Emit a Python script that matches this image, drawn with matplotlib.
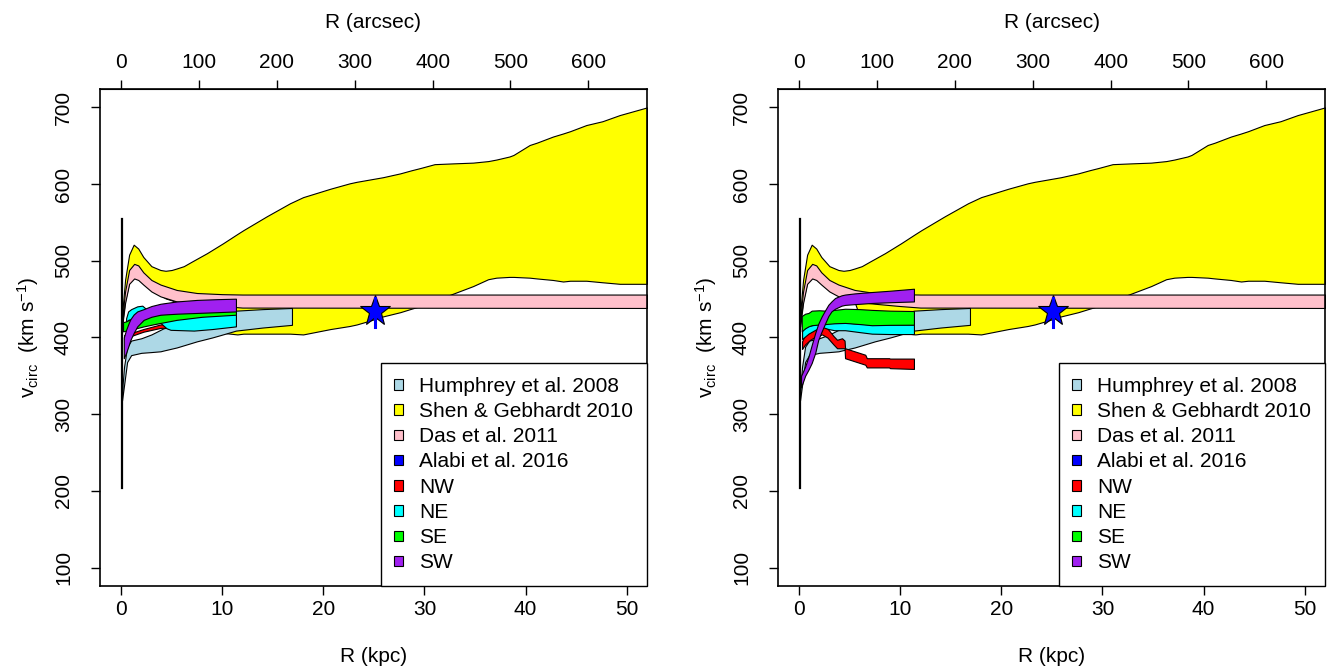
import numpy as np
import matplotlib
matplotlib.use("Agg")
import matplotlib.pyplot as plt
from matplotlib.patches import Patch

plt.rcParams['font.family'] = ['Liberation Sans', 'DejaVu Sans']
plt.rcParams['mathtext.fontset'] = 'custom'
plt.rcParams['mathtext.rm'] = 'Liberation Sans'
plt.rcParams['mathtext.it'] = 'Liberation Sans:italic'
plt.rcParams['font.size'] = 15

KPC_PER_ARCSEC = 0.077

# ── LITERATURE PROFILES (same in both panels) ─────────
# Shen & Gebhardt 2010
sg_x  = [0.1, 0.4, 0.8, 1.25, 1.7, 2.2, 3.0, 3.9, 4.4, 5.0, 5.5, 6.2, 7.0, 8.5, 10.1, 11.5,
         12.1, 14.4, 16.7, 18.0, 20.7, 22.6, 23.3, 24.6, 25.9, 27.6, 28.7, 29.6, 31.0, 32.8,
         34.8, 36.3, 37.1, 38.4, 38.8, 40.4, 41.1, 42.7, 43.7, 44.4, 46.0, 47.6, 49.3, 52.0]
sg_hi = [430, 475, 508, 521, 516, 505, 493, 488, 487, 488, 490, 493, 499, 510, 523, 535,
         540, 558, 575, 583, 594, 601, 603, 606, 609, 614, 618, 621, 626, 627,
         628, 630, 632, 636, 638, 651, 654, 662, 666, 669, 677, 682, 690, 700]
sg_lo = [418, 448, 472, 479, 477, 471, 462, 455, 451, 448.5, 446, 420, 410, 407, 406, 404,
         405, 405, 405, 404, 411, 415, 417, 422, 427.5, 433, 437.5, 441, 448, 457,
         467, 476, 478, 479, 479, 478, 477, 475, 473, 474, 474, 472, 470, 470]

# Das et al. 2011
das_x  = [0.1, 0.4, 0.8, 1.3, 1.7, 2.2, 3.0, 3.9, 5.5, 7.5, 10.0, 12.0, 52.0]
das_hi = [424, 460, 488, 496, 494, 485, 475, 469, 462, 458, 456.5, 456, 456]
das_lo = [414, 445, 470, 477, 475, 469, 460, 453.6, 447, 444, 441, 439, 438.5]

# Humphrey et al. 2008
hum_x  = [0.1, 0.3, 0.6, 1.0, 2.0, 3.0, 3.9, 4.2, 5.5, 7.0, 7.5, 9.0, 9.8, 11.36, 14.0, 16.9]
hum_hi = [330, 362, 388, 396, 399, 404, 410, 412, 416, 420, 422, 426, 429, 435, 437, 438.5]
hum_lo = [318, 338, 368, 377, 380, 381, 382, 383, 387, 393, 395, 400, 403, 409, 413, 416.5]

# Alabi et al. 2016
alabi_r, alabi_v, alabi_lo, alabi_hi = 25.1, 434, 414, 452

# inner spike at R ~ 0
spike_r, spike_lo, spike_hi = 0.08, 204, 554

# ── LEFT PANEL: NW / NE / SE / SW ─────────────────────
nw1_x  = [0.3, 0.9, 2.2, 3.9, 5.0, 11.36]
nw1_lo = [398, 401.5, 407.5, 412.5, 413, 416]
nw1_hi = [403, 405.5, 411, 417, 418, 420]

ne1_x  = [0.5, 0.7, 1.0, 1.6, 2.1, 2.5, 3.0, 3.9, 4.5, 4.9, 7.2, 9.0, 11.36]
ne1_hi = [425, 434, 437, 440.6, 441.5, 437, 428, 424, 424, 425, 427, 429, 431]
ne1_lo = [420, 423, 424, 424, 421, 419, 418, 419, 412, 410, 409, 411, 414.5]

se1_x  = [0.2, 0.5, 0.8, 1.5, 2.24, 3.5, 5.5, 8.0, 11.36]
se1_hi = [420, 421, 423, 426, 428, 430, 432, 434, 436]
se1_lo = [408, 409, 410, 412, 414.5, 418, 423, 427, 429.7]

sw1_x  = [0.27, 0.5, 0.76, 0.93, 1.25, 1.6, 2.24, 3.0, 3.9, 5.5, 7.5, 9.5, 11.36]
sw1_hi = [400, 410, 419, 424, 430, 434, 437, 441, 444, 447, 449, 450, 450.6]
sw1_lo = [373, 380, 390, 397, 406, 414.5, 423, 427, 429.7, 431, 432, 433, 434]

# ── RIGHT PANEL: NW / NE / SE / SW ────────────────────
nw2_x  = [0.3, 0.6, 1.1, 1.6, 2.28, 2.8, 3.4, 3.76, 4.25, 4.5, 4.55, 6.55, 6.7, 8.9, 9.0, 11.36]
nw2_hi = [395, 403.5, 408, 412, 415.5, 412, 402, 397, 399, 396, 386, 377.5, 373, 373, 372.5, 372.5]
nw2_lo = [385, 391, 397, 401, 404, 400, 391, 386, 386, 386, 373, 364.5, 361, 361, 360, 359]

ne2_x  = [0.3, 0.93, 1.6, 2.24, 2.9, 3.5, 4.55, 6.0, 7.2, 9.0, 11.36]
ne2_hi = [410, 415, 417, 418, 419, 419, 419.5, 418, 417, 417, 417]
ne2_lo = [398, 405, 410, 414, 411, 409.5, 409.5, 407, 405, 404.5, 404.5]

se2_x  = [0.27, 0.6, 0.93, 1.25, 2.0, 2.6, 3.5, 4.55, 6.0, 7.2, 9.0, 11.36]
se2_hi = [428, 431, 432, 435, 435.5, 435, 436, 437.5, 437, 436, 435, 434.5]
se2_lo = [408, 412, 414.5, 416, 417, 417.5, 418.5, 419, 417.5, 416, 416.5, 416.7]

sw2_x  = [0.2, 0.6, 0.93, 1.25, 1.6, 1.9, 2.24, 2.6, 2.9, 3.2, 3.56, 4.2, 4.55, 5.5, 7.2, 9.0, 11.36]
sw2_hi = [350, 362, 375, 390, 406, 418, 427.5, 436, 442.7, 447, 451.5, 455, 456, 457.5, 459.3, 461, 463.6]
sw2_lo = [335, 350, 358, 366.7, 380, 397, 408, 419, 428, 434, 437.5, 441.5, 442.5, 443.5, 445, 446, 447]

legend_labels = ["Humphrey et al. 2008", "Shen & Gebhardt 2010", "Das et al. 2011",
                 "Alabi et al. 2016", "NW", "NE", "SE", "SW"]
legend_colors = ["lightblue", "yellow", "pink", "blue", "red", "cyan", "lime", "#A020F0"]


def band(ax, x, lo, hi, color):
    ax.fill_between(x, lo, hi, facecolor=color, edgecolor="black", linewidth=0.8)


def draw_panel(ax, nw, ne, se, sw):
    band(ax, sg_x, sg_lo, sg_hi, "yellow")
    band(ax, das_x, das_lo, das_hi, "pink")
    band(ax, hum_x, hum_lo, hum_hi, "lightblue")
    ax.plot([spike_r, spike_r], [spike_lo, spike_hi], color="black", lw=1.6)
    band(ax, *nw, "red")
    band(ax, *ne, "cyan")
    band(ax, *se, "lime")
    band(ax, *sw, "#A020F0")
    ax.plot(alabi_r, alabi_v, marker="*", ms=23, color="blue", mec="black", mew=0.8, zorder=5)
    ax.plot([alabi_r, alabi_r], [alabi_lo, alabi_hi], color="blue", lw=2.2, zorder=6)

    ax.set_xlim(-2.08, 52.0)
    ax.set_ylim(76, 724)
    ax.set_xticks(np.arange(0, 51, 10))
    ax.set_yticks(np.arange(100, 701, 100))
    ax.tick_params(direction="out", length=6.5, width=1, labelsize=15)
    ax.tick_params(axis="x", pad=3.5)
    ax.tick_params(axis="y", pad=13)
    plt.setp(ax.get_yticklabels(), rotation=90, va="center")
    for s in ax.spines.values():
        s.set_linewidth(1.2)
    ax.set_xlabel("R (kpc)", fontsize=15, labelpad=20)
    ax.set_ylabel(r"v$_{\mathregular{circ}}$  (km s$^{\mathregular{-1}}$)", fontsize=15, labelpad=9)

    top = ax.secondary_xaxis("top", functions=(lambda r: r / KPC_PER_ARCSEC,
                                               lambda a: a * KPC_PER_ARCSEC))
    top.set_xticks(np.arange(0, 601, 100))
    top.tick_params(direction="out", length=6.5, width=1, labelsize=15, pad=5.5)
    top.set_xlabel("R (arcsec)", fontsize=15, labelpad=18)

    handles = [Patch(facecolor=c, edgecolor="black", linewidth=0.8) for c in legend_colors]
    leg = ax.legend(handles, legend_labels, loc="lower right", bbox_to_anchor=(1, 0),
                    borderaxespad=0, fancybox=False, fontsize=15, handlelength=0.4,
                    handleheight=0.4, handletextpad=0.8, labelspacing=0.3,
                    borderpad=0.65, framealpha=1)
    leg.get_frame().set_edgecolor("black")
    leg.get_frame().set_linewidth(1.0)
    leg.set_zorder(10)


fig = plt.figure(figsize=(13.31, 6.71), dpi=100)
ax1 = fig.add_axes([100 / 1331, 85 / 671, 547 / 1331, 497 / 671])
ax2 = fig.add_axes([778 / 1331, 85 / 671, 547 / 1331, 497 / 671])

draw_panel(ax1, (nw1_x, nw1_lo, nw1_hi), (ne1_x, ne1_lo, ne1_hi),
           (se1_x, se1_lo, se1_hi), (sw1_x, sw1_lo, sw1_hi))
draw_panel(ax2, (nw2_x, nw2_lo, nw2_hi), (ne2_x, ne2_lo, ne2_hi),
           (se2_x, se2_lo, se2_hi), (sw2_x, sw2_lo, sw2_hi))

fig.savefig("out.png", dpi=100)
